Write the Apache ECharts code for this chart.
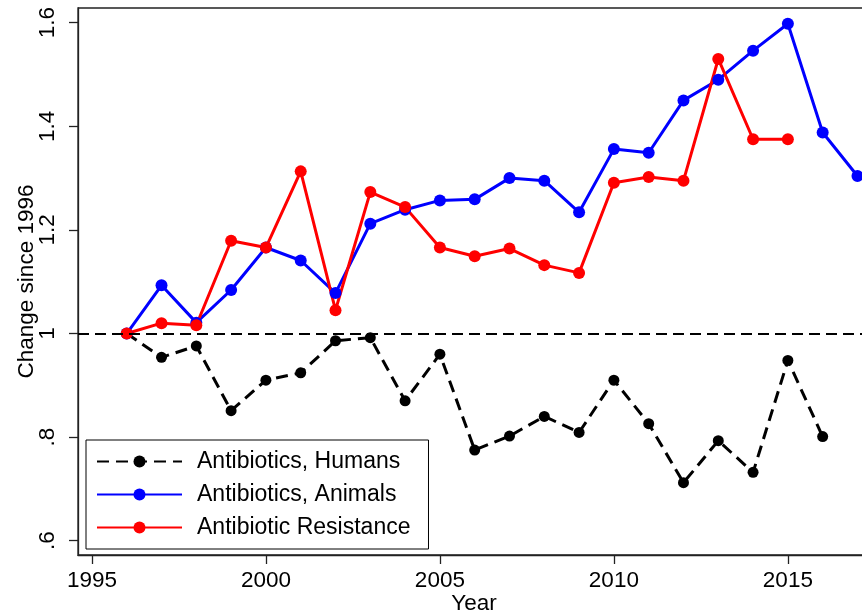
<!DOCTYPE html>
<html>
<head>
<meta charset="utf-8">
<script src="https://cdn.jsdelivr.net/npm/echarts@6/dist/echarts.min.js"></script>
<style>
  html, body { margin: 0; padding: 0; background: #fff; }
  #chart { width: 862px; height: 613px; }
</style>
</head>
<body>
<div id="chart"></div>
<script>
var years = [1996, 1997, 1998, 1999, 2000, 2001, 2002, 2003, 2004, 2005, 2006,
  2007, 2008, 2009, 2010, 2011, 2012, 2013, 2014, 2015, 2016, 2017];
var humans = [1.0, 0.954, 0.976, 0.851, 0.910, 0.924, 0.986, 0.992, 0.870, 0.960, 0.775,
  0.802, 0.840, 0.809, 0.910, 0.826, 0.712, 0.793, 0.732, 0.948, 0.801, null];
var animals = [1.0, 1.093, 1.021, 1.084, 1.166, 1.141, 1.078, 1.212, 1.239, 1.257, 1.259,
  1.300, 1.295, 1.234, 1.356, 1.349, 1.450, 1.490, 1.546, 1.598, 1.388, 1.304];
var resistance = [1.0, 1.020, 1.016, 1.179, 1.166, 1.313, 1.045, 1.273, 1.244, 1.166, 1.149,
  1.164, 1.132, 1.117, 1.291, 1.302, 1.295, 1.530, 1.375, 1.375, null, null];
var xTicks = [1995, 2000, 2005, 2010, 2015];
var yTicks = [0.6, 0.8, 1.0, 1.2, 1.4, 1.6];
var yTickLabels = ['.6', '.8', '1', '1.2', '1.4', '1.6'];

function pairs(vals) {
  return years.map(function (y, i) { return [y, vals[i]]; })
    .filter(function (p) { return p[1] !== null; });
}

var font = 'Liberation Sans, Arial, Helvetica, sans-serif';
var fs = 22.5;
var chart = echarts.init(document.getElementById('chart'));
chart.setOption({
  animation: false,
  textStyle: { fontFamily: font },
  grid: {
    left: 78, right: -8, top: 8, bottom: 58,
    outerBoundsMode: 'none',
    containLabel: false,
    show: true,
    borderColor: '#222',
    borderWidth: 1.3
  },
  legend: {
    orient: 'vertical',
    left: 86,
    top: 440,
    itemWidth: 85,
    itemHeight: 15,
    itemGap: 10,
    padding: [10, 18, 10, 10],
    borderColor: '#000',
    borderWidth: 1,
    backgroundColor: '#fff',
    textStyle: { fontSize: 23, color: '#000', fontFamily: font, padding: [0, 0, 0, 10] },
    data: ['Antibiotics, Humans', 'Antibiotics, Animals', 'Antibiotic Resistance']
  },
  xAxis: {
    type: 'value',
    min: 1994.6,
    max: 2017.36,
    name: 'Year',
    nameLocation: 'middle',
    nameGap: 37,
    nameMoveOverlap: false,
    nameTextStyle: { fontSize: fs, color: '#000', fontFamily: font },
    axisLine: { show: true, lineStyle: { color: '#222', width: 1.3 } },
    axisTick: { show: true, length: 9, customValues: xTicks, lineStyle: { color: '#222', width: 1.3 } },
    axisLabel: {
      customValues: xTicks, margin: 14, fontSize: fs, color: '#000', fontFamily: font,
      formatter: function (v) { return String(v); }
    },
    splitLine: { show: false }
  },
  yAxis: {
    type: 'value',
    min: 0.5724,
    max: 1.6284,
    name: 'Change since 1996',
    nameLocation: 'middle',
    nameRotate: 90,
    nameGap: 40,
    nameMoveOverlap: false,
    nameTextStyle: { fontSize: fs, color: '#000', fontFamily: font },
    axisLine: { show: true, lineStyle: { color: '#222', width: 1.3 } },
    axisTick: { show: true, length: 9, customValues: yTicks, lineStyle: { color: '#222', width: 1.3 } },
    axisLabel: {
      customValues: yTicks,
      rotate: 90,
      margin: 19,
      fontSize: fs,
      color: '#000',
      fontFamily: font,
      formatter: function (v) {
        var i = yTicks.findIndex(function (t) { return Math.abs(t - v) < 1e-6; });
        return i >= 0 ? yTickLabels[i] : '';
      }
    },
    splitLine: { show: false }
  },
  series: [{
    name: 'Antibiotics, Humans',
    type: 'line',
    data: pairs(humans),
    symbol: 'circle',
    symbolSize: 11,
    itemStyle: { color: '#000' },
    lineStyle: { color: '#000', width: 3, type: [12, 7] },
    markLine: {
      silent: true,
      symbol: 'none',
      label: { show: false },
      lineStyle: { color: '#000', width: 2, type: [11, 6] },
      data: [{ yAxis: 1 }]
    }
  }, {
    name: 'Antibiotics, Animals',
    type: 'line',
    data: pairs(animals),
    symbol: 'circle',
    symbolSize: 12,
    itemStyle: { color: '#0000ff' },
    lineStyle: { color: '#0000ff', width: 3 }
  }, {
    name: 'Antibiotic Resistance',
    type: 'line',
    data: pairs(resistance),
    symbol: 'circle',
    symbolSize: 12,
    itemStyle: { color: '#ff0000' },
    lineStyle: { color: '#ff0000', width: 3 }
  }]
});
</script>
</body>
</html>
